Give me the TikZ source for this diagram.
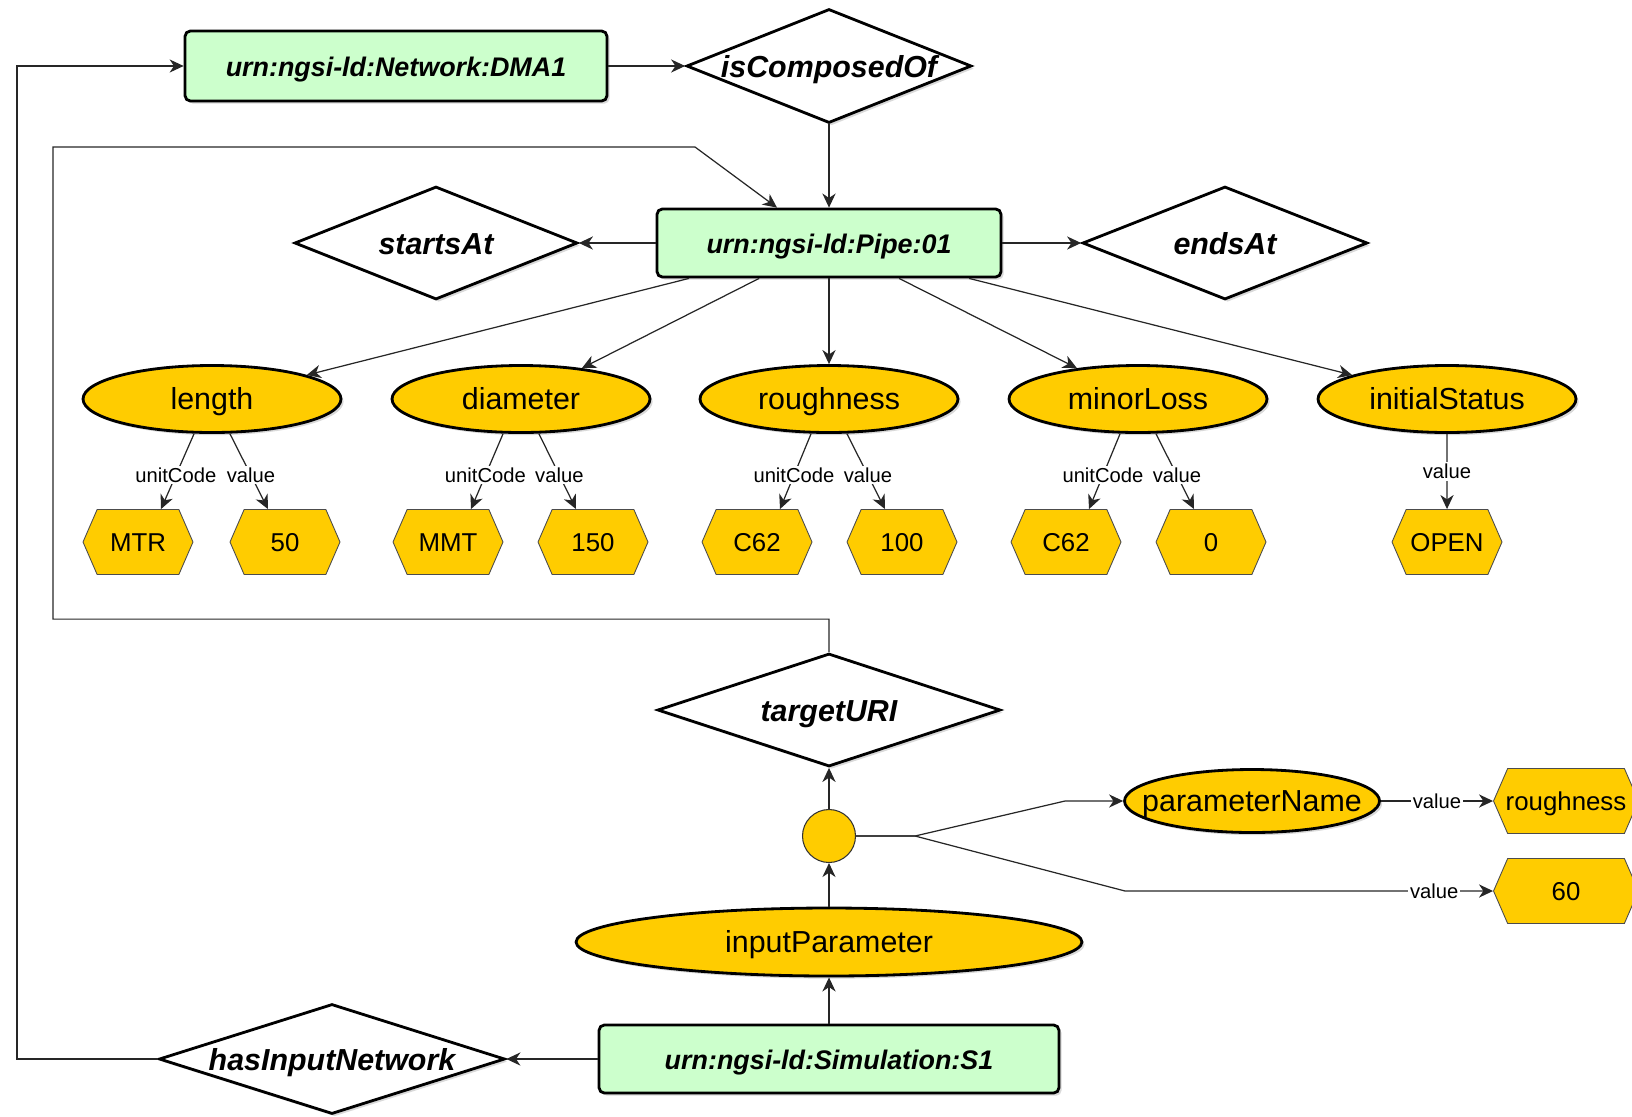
\documentclass[tikz,border=0pt]{standalone}
\usepackage{fontspec}
\setmainfont{Liberation Sans}
\usetikzlibrary{shapes,arrows.meta,shadows,calc}

\definecolor{entityfill}{HTML}{CCFFCC}
\definecolor{propfill}{HTML}{FFCC00}
\newcommand{\nw}[1]{\makebox[0pt]{#1}}

\begin{document}
\begin{tikzpicture}[
    x=0.02cm, y=-0.02cm,
    >={Stealth[length=8pt,width=7.5pt,inset=2.5pt]},
    link/.style={->, draw=black!85, line width=0.7pt},
    softshadow/.style={drop shadow={opacity=0.3, shadow xshift=1.5pt, shadow yshift=-1.5pt}},
    entity/.style={rectangle, draw, line width=1.6pt, rounded corners=3pt, fill=entityfill, softshadow, text height=13pt, text depth=1pt, font=\fontsize{15.3}{18}\selectfont\bfseries\itshape},
    rel/.style={diamond, draw, line width=1.6pt, fill=white, inner sep=0pt, softshadow, text height=14.5pt, text depth=0.9pt, font=\fontsize{17.3}{20}\selectfont\bfseries\itshape},
    prop/.style={ellipse, draw, line width=1.6pt, fill=propfill, inner sep=0pt, minimum width=5.16cm, minimum height=1.34cm, softshadow, text height=13.5pt, text depth=1.5pt, font=\fontsize{17.3}{20}\selectfont},
    val/.style={signal, signal to=east and west, signal pointer angle=133, draw=black!70, line width=0.5pt, fill=propfill, inner sep=0pt, minimum width=2.2cm, minimum height=1.3cm, text height=12pt, text depth=1pt, font=\fontsize{14.7}{17}\selectfont},
    elab/.style={fill=white, inner sep=1pt, font=\fontsize{11.5}{13}\selectfont}
]
\useasboundingbox (0,0) rectangle (1632,1116);

% entities and relationships
\node[entity, minimum width=8.44cm, minimum height=1.4cm] (net) at (396,66) {urn:ngsi-ld:Network:DMA1};
\node[rel, minimum width=5.7cm, minimum height=2.28cm] (composed) at (829,66) {\nw{isComposedOf}};
\node[entity, minimum width=6.88cm, minimum height=1.36cm] (pipe) at (829,243) {urn:ngsi-ld:Pipe:01};
\node[rel, minimum width=5.66cm, minimum height=2.26cm] (starts) at (436,243) {\nw{startsAt}};
\node[rel, minimum width=5.7cm, minimum height=2.26cm] (ends) at (1225,243) {\nw{endsAt}};

% pipe properties
\node[prop] (len) at (212,399) {length};
\node[prop] (diam) at (521,399) {diameter};
\node[prop] (rough) at (829,399) {roughness};
\node[prop] (minor) at (1138,399) {minorLoss};
\node[prop] (status) at (1447,399) {initialStatus};

\node[val] (mtr) at (138,542) {MTR};
\node[val] (v50) at (285,542) {50};
\node[val] (mmt) at (448,542) {MMT};
\node[val] (v150) at (593,542) {150};
\node[val] (c62a) at (757,542) {C62};
\node[val] (v100) at (902,542) {100};
\node[val] (c62b) at (1066,542) {C62};
\node[val] (v0) at (1211,542) {0};
\node[val] (open) at (1447,542) {OPEN};

% simulation part
\node[rel, minimum width=6.86cm, minimum height=2.26cm] (target) at (829,710) {\nw{targetURI}};
\node[circle, draw=black!80, line width=0.6pt, fill=propfill, minimum size=1.06cm, inner sep=0pt] (junc) at (829,836) {};
\node[prop, minimum width=5.1cm, minimum height=1.26cm] (pname) at (1252,801) {\nw{parameterName}};
\node[val, minimum width=2.9cm] (pval) at (1566,801) {\nw{roughness}};
\node[val, minimum width=2.9cm] (nval) at (1566,891) {60};
\node[prop, minimum width=10.12cm, minimum height=1.36cm] (inparam) at (829,942) {inputParameter};
\node[entity, minimum width=9.2cm, minimum height=1.36cm] (sim) at (829,1059) {urn:ngsi-ld:Simulation:S1};
\node[rel, minimum width=6.92cm, minimum height=2.2cm] (hasnet) at (332,1059) {\nw{hasInputNetwork}};

\draw[link] (net.east) -- (composed.west);
\draw[link] (composed.south) -- (pipe.north);
\draw[link] (pipe.west) -- (starts.east);
\draw[link] (pipe.east) -- (ends.west);

\foreach \p in {len,diam,rough,minor,status} {
    \draw[link] (pipe) -- (\p);
}

\foreach \p/\u/\v in {len/mtr/v50, diam/mmt/v150, rough/c62a/v100, minor/c62b/v0} {
    \draw[link] ($(\p.south)+(-18,0)$) -- node[elab, pos=0.55] {unitCode} ($(\u.north)+(23,0)$);
    \draw[link] ($(\p.south)+(18,0)$) -- node[elab, pos=0.55] {value} ($(\v.north)+(-17,0)$);
}
\draw[link] (status) -- node[elab] {value} (open);

\draw[link] (sim) -- (inparam);
\draw[link] (inparam) -- (junc);
\draw[link] (junc) -- (target);
\draw[link] (sim.west) -- (hasnet.east);

% loops back to the top
\draw[link] (hasnet.west) -| (17,66) -- (net.west);
\draw[link] (target.north) -- ++(0,-33) -| (53,147) -- (695,147) -- ($(pipe.north)+(-52,0)$);

\draw[link] (junc.east) -- (915,836) -- (1065,801) -- (pname.west);
\draw[link] (junc.east) -- (915,836) -- (1125,891) -- node[elab, pos=0.84] {value} (nval.west);
\draw[link] (pname.east) -- node[elab] {value} (pval.west);

\end{tikzpicture}
\end{document}
